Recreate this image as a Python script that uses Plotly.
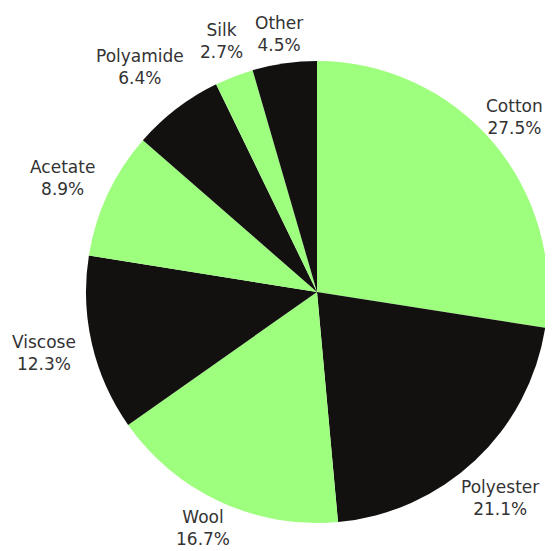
import math
import plotly.graph_objects as go

labels = ["Cotton", "Polyester", "Wool", "Viscose", "Acetate", "Polyamide", "Silk", "Other"]
values = [27.5, 21.1, 16.7, 12.3, 8.9, 6.4, 2.7, 4.5]
colors = ["#9EFF7E", "#121110", "#9EFF7E", "#121110", "#9EFF7E", "#121110", "#9EFF7E", "#121110"]

W, H = 553, 543
OFF = 8                               # page body margin offset
VIS_W, VIS_H = 545 - OFF, 551 - OFF   # visible area in figure pixels
cx_px, cy_px, r_px = 317 - OFF, 292 - OFF, 231
label_r0 = 247                        # anchor distance of label box edge
char_w, box_h, desc_extra = 9.8, 44, 28

fig = go.Figure(go.Pie(
    labels=labels,
    values=values,
    sort=False,
    direction="clockwise",
    rotation=0,
    marker=dict(colors=colors, line=dict(width=0)),
    textinfo="none",
    showlegend=False,
    hoverinfo="label+percent",
    domain=dict(
        x=[(cx_px - r_px) / W, (cx_px + r_px) / W],
        y=[(H - cy_px - r_px) / H, (H - cy_px + r_px) / H],
    ),
))

total = sum(values)
annotations = []
cum = 0.0
for lab, v in zip(labels, values):
    mid = (cum + v / 2) / total * 2 * math.pi
    cum += v
    pct = f"{v / total * 100:.1f}%"
    s, c = math.sin(mid), math.cos(mid)
    w = char_w * max(len(lab), len(pct))
    h = box_h + (desc_extra if any(ch in "gjpqy" for ch in lab) else 0)
    px = cx_px + label_r0 * s + s * w / 2
    py = cy_px - label_r0 * c - c * h / 2
    px = min(max(px, w / 2 + 2), VIS_W - w / 2 - 1)
    py = min(max(py, box_h / 2 + 4), VIS_H - box_h / 2 - 1)
    annotations.append(dict(
        x=px / W, y=1 - py / H, xref="paper", yref="paper",
        text=f"{lab}<br>{pct}",
        showarrow=False, xanchor="center", yanchor="middle",
        align="center",
        font=dict(family="DejaVu Sans", size=17, color="#333333"),
    ))

fig.update_layout(
    width=W, height=H,
    margin=dict(l=0, r=0, t=0, b=0),
    paper_bgcolor="white",
    plot_bgcolor="white",
    annotations=annotations,
)
fig.write_html("out.html")
